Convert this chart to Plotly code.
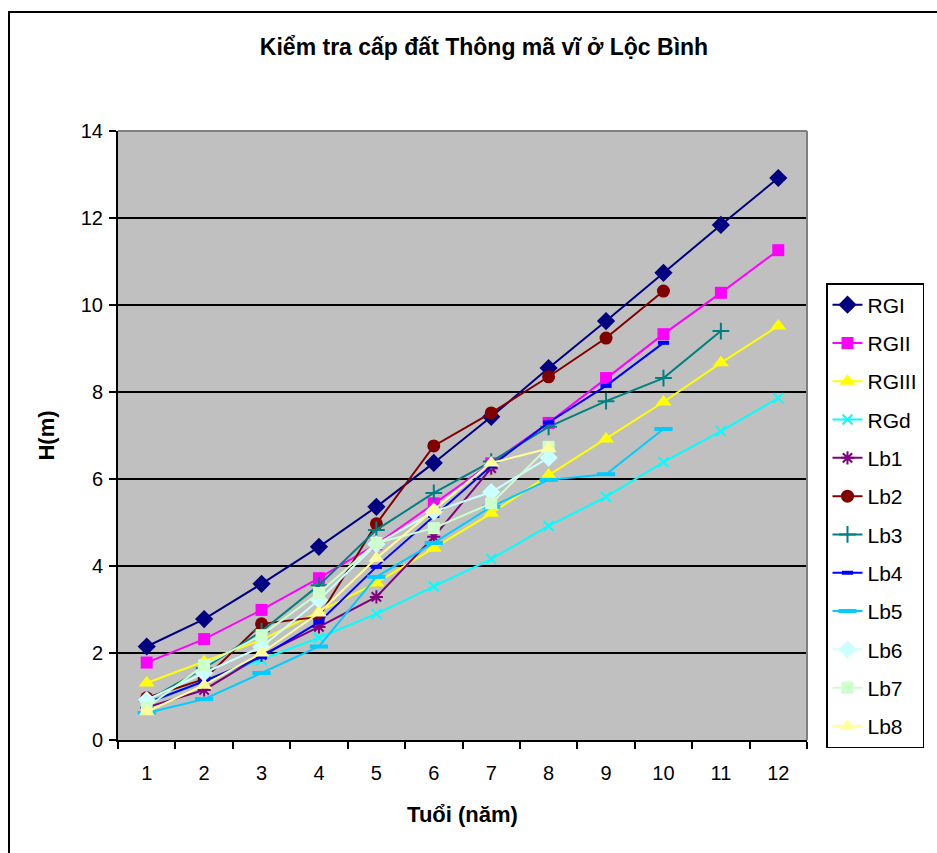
import plotly.graph_objects as go

# Age classes (years)
ages = ["1", "2", "3", "4", "5", "6", "7", "8", "9", "10", "11", "12"]

# Site-class reference curves, height H (m)
rg_i = [2.15, 2.78, 3.59, 4.44, 5.36, 6.37, 7.43, 8.55, 9.63, 10.74, 11.84, 12.92]
rg_ii = [1.78, 2.32, 2.99, 3.72, 4.50, 5.44, 6.36, 7.29, 8.32, 9.33, 10.28, 11.26]
rg_iii = [1.31, 1.80, 2.30, 2.95, 3.61, 4.41, 5.21, 6.09, 6.92, 7.77, 8.67, 9.52]
rg_d = [0.85, 1.35, 1.84, 2.35, 2.90, 3.53, 4.16, 4.92, 5.59, 6.39, 7.10, 7.86]

# Sample plots
lb1 = [0.75, 1.15, 1.95, 2.60, 3.29, 4.67, 6.25]
lb2 = [0.97, 1.40, 2.67, 2.83, 4.97, 6.76, 7.52, 8.35, 9.24, 10.32]
lb3 = [0.90, 1.65, 2.50, 3.56, 4.83, 5.68, 6.40, 7.20, 7.79, 8.32, 9.40]
lb4 = [0.85, 1.35, 1.91, 2.71, 3.98, 5.15, 6.30, 7.30, 8.14, 9.13]
lb5 = [0.62, 0.94, 1.54, 2.15, 3.75, 4.53, 5.36, 5.98, 6.11, 7.15]
lb6 = [0.92, 1.54, 2.14, 3.22, 4.50, 5.25, 5.70, 6.49]
lb7 = [0.74, 1.72, 2.41, 3.38, 4.53, 4.87, 5.44, 6.74]
lb8 = [0.65, 1.26, 2.00, 2.92, 4.18, 5.29, 6.37, 6.70]

y_ticks = [0, 2, 4, 6, 8, 10, 12, 14]

series = [
    ("RGI", rg_i, "#000080", "diamond", 14, True),
    ("RGII", rg_ii, "#FF00FF", "square", 12, True),
    ("RGIII", rg_iii, "#FFFF00", "triangle-up", 14, True),
    ("RGd", rg_d, "#00FFFF", "x-thin", 10, False),
    ("Lb1", lb1, "#800080", "asterisk", 11, False),
    ("Lb2", lb2, "#800000", "circle", 13, True),
    ("Lb3", lb3, "#008080", "cross-thin", 12, False),
    ("Lb4", lb4, "#0000FF", "line-ew", 8, False),
    ("Lb5", lb5, "#00CCFF", "line-ew", 13, False),
    ("Lb6", lb6, "#CCFFFF", "diamond", 14, True),
    ("Lb7", lb7, "#CCFFCC", "square", 12, True),
    ("Lb8", lb8, "#FFFF99", "triangle-up", 14, True),
]

FONT = "Liberation Sans, Arial, sans-serif"

fig = go.Figure()
for i, (name, vals, color, symbol, size, filled) in enumerate(series):
    if filled:
        marker = dict(symbol=symbol, size=size, color=color, line=dict(width=0))
    else:
        marker = dict(symbol=symbol, size=size, color=color,
                      line=dict(width=4 if symbol == "line-ew" else 2, color=color))
    fig.add_trace(go.Scatter(
        x=ages[:len(vals)], y=vals, name=name, mode="lines+markers",
        line=dict(color=color, width=2), marker=marker,
        legendgroup=f"g{i}",
    ))

fig.update_layout(
    width=937, height=853,
    margin=dict(l=118, r=130, t=131, b=113, autoexpand=False),
    paper_bgcolor="white",
    plot_bgcolor="#C0C0C0",
    font=dict(family=FONT, size=20, color="black"),
    title=dict(
        text="<b>Kiểm tra cấp đất Thông mã vĩ ở Lộc Bình</b>",
        x=484 / 937, xanchor="center", xref="container",
        y=1 - 47 / 853, yanchor="middle", yref="container",
        font=dict(family=FONT, size=23, color="black"),
    ),
    showlegend=True,
    legend=dict(
        x=(826 - 118) / 689, xanchor="left",
        y=(740 - 283) / 609, yanchor="top",
        bgcolor="white", bordercolor="black", borderwidth=1.5,
        font=dict(family=FONT, size=21, color="black"),
        tracegroupgap=8,
        itemwidth=30,
    ),
)

fig.update_xaxes(
    type="category", categoryorder="array", categoryarray=ages,
    range=[-0.5, 11.5],
    tickson="boundaries", ticks="outside", ticklen=7, tickwidth=1.5,
    tickcolor="black",
    showline=True, linecolor="black", linewidth=2,
    showgrid=False, zeroline=False,
    tickfont=dict(family=FONT, size=20),
    ticklabelstandoff=14,
    title=dict(text="<b>Tuổi (năm)</b>", font=dict(family=FONT, size=22), standoff=24),
)

fig.update_yaxes(
    range=[0, 14], tickvals=y_ticks,
    ticks="outside", ticklen=7, tickwidth=1.5, tickcolor="black",
    showline=True, linecolor="black", linewidth=2,
    showgrid=True, gridcolor="black", gridwidth=2,
    zeroline=False,
    tickfont=dict(family=FONT, size=20),
    ticklabelstandoff=2,
    title=dict(text="<b>H(m)</b>", font=dict(family=FONT, size=22), standoff=20),
)

# Grey frame along the top and right edges of the plotting area
fig.add_shape(type="line", xref="paper", yref="paper", x0=0, x1=1, y0=1, y1=1,
              line=dict(color="#808080", width=2), layer="above")
fig.add_shape(type="line", xref="paper", yref="paper", x0=1, x1=1, y0=0, y1=1,
              line=dict(color="#808080", width=2), layer="above")

# Outer chart border
fig.add_shape(type="rect", xref="paper", yref="paper",
              x0=(9 - 118) / 689, x1=(950 - 118) / 689,
              y0=(740 - 870) / 609, y1=(740 - 12) / 609,
              line=dict(color="black", width=2), fillcolor="rgba(0,0,0,0)",
              layer="above")

fig.write_html("out.html")
